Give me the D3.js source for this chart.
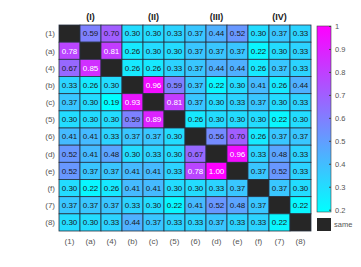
<!DOCTYPE html>
<html>
<head>
<meta charset="utf-8">
<script src="https://d3js.org/d3.v7.min.js"></script>
<style>
  body { margin: 0; background: #fff; }
  text { font-family: "Liberation Sans", Arial, sans-serif; }
</style>
</head>
<body>
<svg id="chart" width="361" height="267"></svg>
<script>
// row / column labels (same order on both axes)
var labels = ["(1)", "(a)", "(4)", "(b)", "(c)", "(5)", "(6)", "(d)", "(e)", "(f)", "(7)", "(8)"];
var groups = ["(I)", "(II)", "(III)", "(IV)"];

// one array per row, null = diagonal ("same")
var r1 = [null, 0.59, 0.70, 0.30, 0.30, 0.33, 0.37, 0.44, 0.52, 0.30, 0.37, 0.33];
var ra = [0.78, null, 0.81, 0.26, 0.30, 0.30, 0.37, 0.37, 0.37, 0.22, 0.30, 0.33];
var r4 = [0.67, 0.85, null, 0.26, 0.26, 0.33, 0.37, 0.44, 0.44, 0.26, 0.37, 0.33];
var rb = [0.33, 0.26, 0.30, null, 0.96, 0.59, 0.37, 0.22, 0.30, 0.41, 0.26, 0.44];
var rc = [0.37, 0.30, 0.19, 0.93, null, 0.81, 0.37, 0.30, 0.33, 0.37, 0.30, 0.33];
var r5 = [0.30, 0.30, 0.30, 0.59, 0.89, null, 0.26, 0.30, 0.30, 0.30, 0.22, 0.30];
var r6 = [0.41, 0.41, 0.33, 0.37, 0.37, 0.30, null, 0.56, 0.70, 0.26, 0.37, 0.37];
var rd = [0.52, 0.41, 0.48, 0.30, 0.33, 0.30, 0.67, null, 0.96, 0.33, 0.48, 0.33];
var re = [0.52, 0.37, 0.37, 0.41, 0.41, 0.33, 0.78, 1.00, null, 0.37, 0.52, 0.33];
var rf = [0.30, 0.22, 0.26, 0.41, 0.41, 0.30, 0.30, 0.33, 0.37, null, 0.37, 0.30];
var r7 = [0.37, 0.37, 0.37, 0.33, 0.30, 0.22, 0.41, 0.52, 0.48, 0.37, null, 0.22];
var r8 = [0.30, 0.30, 0.33, 0.44, 0.37, 0.33, 0.33, 0.37, 0.33, 0.33, 0.22, null];
var rows = [r1, ra, r4, rb, rc, r5, r6, rd, re, rf, r7, r8];

var cbTicks = [0.2, 0.3, 0.4, 0.5, 0.6, 0.7, 0.8, 0.9, 1];
var cMin = 0.19, cMax = 1.0;

var cells = [];
rows.forEach(function(row, i) {
  row.forEach(function(v, j) { cells.push({r: labels[i], c: labels[j], v: v}); });
});

var svg = d3.select("#chart");
var gLeft = 59, gTop = 25, gRight = 311, gBottom = 231;

var x = d3.scaleBand().domain(labels).range([gLeft, gRight]);
var y = d3.scaleBand().domain(labels).range([gTop, gBottom]);

// MATLAB "cool": cyan -> magenta
function cool(v) {
  var t = Math.max(0, Math.min(1, (v - cMin) / (cMax - cMin)));
  return d3.rgb(Math.round(255 * t), Math.round(255 * (1 - t)), 255);
}

svg.append("g").selectAll("rect").data(cells).enter().append("rect")
  .attr("x", function(d) { return x(d.c); })
  .attr("y", function(d) { return y(d.r); })
  .attr("width", x.bandwidth())
  .attr("height", y.bandwidth())
  .attr("fill", function(d) { return d.v == null ? "#262626" : cool(d.v); })
  .attr("stroke", "#263040")
  .attr("stroke-width", 0.8);

svg.append("g").selectAll("text").data(cells.filter(function(d) { return d.v != null; }))
  .enter().append("text")
  .attr("x", function(d) { return x(d.c) + x.bandwidth() / 2; })
  .attr("y", function(d) { return y(d.r) + y.bandwidth() / 2; })
  .attr("dy", "0.35em")
  .attr("text-anchor", "middle")
  .attr("font-size", 8)
  .attr("fill", function(d) { return d.v >= 0.75 ? "#fff" : "#1a1a1a"; })
  .text(function(d) { return d.v.toFixed(2); });

// row labels
svg.append("g").selectAll("text").data(labels).enter().append("text")
  .attr("x", gLeft - 4)
  .attr("y", function(d) { return y(d) + y.bandwidth() / 2; })
  .attr("dy", "0.35em")
  .attr("text-anchor", "end")
  .attr("font-size", 8)
  .attr("fill", "#555")
  .text(function(d) { return d; });

// column labels
svg.append("g").selectAll("text").data(labels).enter().append("text")
  .attr("x", function(d) { return x(d) + x.bandwidth() / 2; })
  .attr("y", gBottom + 10)
  .attr("dy", "0.35em")
  .attr("text-anchor", "middle")
  .attr("font-size", 8)
  .attr("fill", "#555")
  .text(function(d) { return d; });

// group headers over the middle column of each block of three
svg.append("g").selectAll("text").data(groups).enter().append("text")
  .attr("x", function(d, i) { var c = labels[i * 3 + 1]; return x(c) + x.bandwidth() / 2; })
  .attr("y", gTop - 5)
  .attr("text-anchor", "middle")
  .attr("font-size", 9)
  .attr("font-weight", "bold")
  .attr("fill", "#222")
  .text(function(d) { return d; });

// colorbar
var cbX = 317, cbW = 14, cbTop = 26, cbBot = 212;
var cy = d3.scaleLinear().domain([cMin, cMax]).range([cbBot, cbTop]);
var grad = svg.append("defs").append("linearGradient")
  .attr("id", "cg").attr("x1", 0).attr("y1", 1).attr("x2", 0).attr("y2", 0);
grad.append("stop").attr("offset", 0).attr("stop-color", cool(cMin));
grad.append("stop").attr("offset", 1).attr("stop-color", cool(cMax));

svg.append("rect")
  .attr("x", cbX).attr("y", cbTop).attr("width", cbW).attr("height", cbBot - cbTop)
  .attr("fill", "url(#cg)")
  .attr("stroke", "#444").attr("stroke-width", 0.6);

var cbAxis = svg.append("g").attr("transform", "translate(" + (cbX + cbW) + ",0)")
  .call(d3.axisRight(cy).tickValues(cbTicks).tickSize(-2).tickPadding(4).tickFormat(d3.format("~g")));
cbAxis.select(".domain").remove();
cbAxis.selectAll("line").attr("stroke", "#444");
cbAxis.selectAll("text").attr("font-size", 7.5).attr("fill", "#555")
  .attr("font-family", "'Liberation Sans', Arial, sans-serif");

// "same" legend
svg.append("rect")
  .attr("x", cbX).attr("y", 218).attr("width", cbW).attr("height", 13)
  .attr("fill", "#262626");
svg.append("text")
  .attr("x", cbX + cbW + 3).attr("y", 224.5).attr("dy", "0.35em")
  .attr("font-size", 7.5).attr("fill", "#555")
  .text("same");
</script>
</body>
</html>
